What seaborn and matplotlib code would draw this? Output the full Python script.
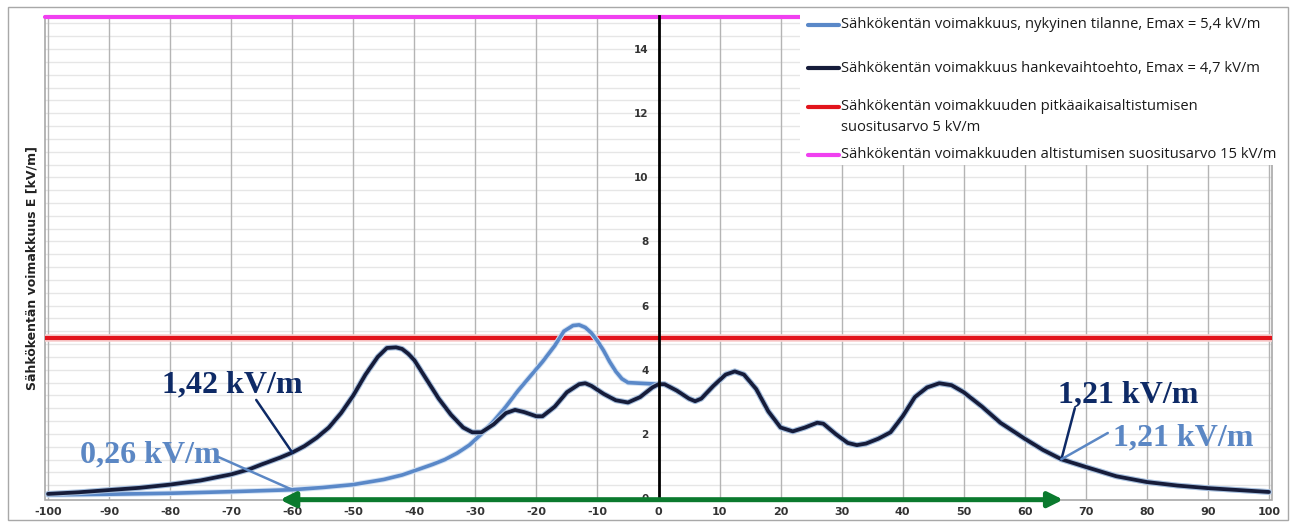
import numpy as np
import matplotlib
matplotlib.use("Agg")
import matplotlib.pyplot as plt
import matplotlib.patheffects as pe
from matplotlib.lines import Line2D
from matplotlib.patches import Rectangle
import seaborn as sns

# Distance from the line centre [m] and field strength [kV/m], proposed alternative
dark_x = [-100, -95, -90, -85, -80, -75, -70, -67, -65, -62, -60, -58, -56, -54, -52,
          -50, -48, -46, -44.5, -43, -42, -41, -40, -38, -36, -34, -32, -30.5, -29,
          -27, -25, -23.5, -22, -20, -19, -17, -15, -13, -12, -11, -9, -7, -5, -3, -1,
          0, 1, 3, 5, 6, 7, 9, 11, 12.5, 14, 16, 18, 20, 22, 24, 26, 27, 29, 31, 32.5,
          34, 36, 38, 40, 42, 44, 46, 48, 50, 53, 56, 60, 63, 66, 70, 75, 80, 85, 90,
          95, 100]
dark_y = [0.13, 0.18, 0.25, 0.32, 0.42, 0.55, 0.74, 0.90, 1.05, 1.26, 1.42, 1.62, 1.88,
          2.20, 2.65, 3.20, 3.85, 4.40, 4.68, 4.70, 4.65, 4.50, 4.30, 3.70, 3.10, 2.60,
          2.20, 2.05, 2.05, 2.30, 2.65, 2.75, 2.68, 2.55, 2.55, 2.85, 3.30, 3.55, 3.58,
          3.50, 3.25, 3.05, 2.98, 3.15, 3.45, 3.55, 3.55, 3.35, 3.10, 3.02, 3.10, 3.50,
          3.85, 3.95, 3.85, 3.40, 2.70, 2.20, 2.08, 2.20, 2.35, 2.32, 2.00, 1.72, 1.65,
          1.70, 1.85, 2.05, 2.55, 3.15, 3.45, 3.58, 3.52, 3.30, 2.85, 2.35, 1.85, 1.50,
          1.21, 0.97, 0.68, 0.50, 0.39, 0.31, 0.25, 0.19]

# Present situation, left side (right side coincides with the proposed alternative)
blue_x_left = [-100, -90, -80, -70, -60, -55, -50, -45, -42, -40, -37, -35, -33, -31,
               -29, -27, -25, -23, -21, -19, -17, -15.5, -14, -13, -12, -11, -10, -9,
               -8, -7, -6, -5, -3, -1]
blue_y_left = [0.10, 0.12, 0.15, 0.20, 0.26, 0.33, 0.42, 0.58, 0.72, 0.85, 1.05, 1.20,
               1.40, 1.65, 2.00, 2.40, 2.85, 3.35, 3.80, 4.25, 4.75, 5.20, 5.38, 5.40,
               5.32, 5.15, 4.90, 4.60, 4.25, 3.95, 3.72, 3.60, 3.58, 3.56]

limit_long = 5.0
limit_short = 15.0

x_ticks = list(range(-100, 101, 10))
y_ticks = list(range(0, 15, 2))

legend_labels = [
    "Sähkökentän voimakkuus, nykyinen tilanne, Emax = 5,4 kV/m",
    "Sähkökentän voimakkuus hankevaihtoehto, Emax = 4,7 kV/m",
    "Sähkökentän voimakkuuden pitkäaikaisaltistumisen\nsuositusarvo 5 kV/m",
    "Sähkökentän voimakkuuden altistumisen suositusarvo 15 kV/m",
]
ylabel = "Sähkökentän voimakkuus E [kV/m]"

# annotated values: (x, value, text)
ann_dark_left = (-60, 1.42, "1,42 kV/m")
ann_blue_left = (-60, 0.26, "0,26 kV/m")
ann_dark_right = (66, 1.21, "1,21 kV/m")
ann_blue_right = (66, 1.21, "1,21 kV/m")

span_left, span_right = -62, 66.3

C_BLUE = "#5a88c8"
C_DARK = "#161c3a"
C_RED = "#e2141c"
C_MAG = "#f040f0"
C_GREEN = "#0b7a2e"
C_NAVY_TXT = "#0e2a66"
C_BLUE_TXT = "#5b87c4"

sns.set_style("white")
plt.rcParams["font.family"] = ["DejaVu Sans"]

W, H = 1296, 523
fig = plt.figure(figsize=(W / 100, H / 100), dpi=100)
ax = fig.add_axes([45 / W, 1 - 500 / H, (1272 - 45) / W, (500 - 16) / H])
ax.set_xlim(-100.5, 100.5)
ax.set_ylim(-0.06, 15.03)

# grid
for yv in np.arange(0.4, 15.0, 0.4):
    ax.axhline(yv, color="#e6e6e6", lw=1.0, zorder=0)
for xv in x_ticks:
    ax.axvline(xv, color="#b4b4b4", lw=1.0, zorder=0.5)

# plot frame
ax.add_patch(Rectangle((0, 0), 1, 1, transform=ax.transAxes, fill=False,
                       edgecolor="#a8a8a8", lw=1.2, zorder=1, clip_on=False))

# reference levels
ax.axhline(limit_long, color=C_RED, lw=3.0, zorder=2,
           path_effects=[pe.Stroke(linewidth=5.5, foreground="#f8d0d0"), pe.Normal()])
ax.axhline(limit_short, color=C_MAG, lw=3.0, zorder=2, clip_on=False)

# field-strength curves
dark_x_arr = np.array(dark_x)
dark_y_arr = np.array(dark_y)
right = dark_x_arr >= 0
blue_x = np.concatenate([blue_x_left, dark_x_arr[right]])
blue_y = np.concatenate([blue_y_left, dark_y_arr[right]])

sns.lineplot(x=blue_x, y=blue_y, ax=ax, color=C_BLUE, lw=2.6, sort=False,
             estimator=None, zorder=3,
             path_effects=[pe.Stroke(linewidth=4, foreground="#d3e2f4"), pe.Normal()])
sns.lineplot(x=dark_x, y=dark_y, ax=ax, color=C_DARK, lw=2.7, sort=False,
             estimator=None, zorder=4,
             path_effects=[pe.Stroke(linewidth=4.2, foreground="#a5bedd"), pe.Normal()])

# y axis through x = 0
for s in ["top", "right", "bottom"]:
    ax.spines[s].set_visible(False)
ax.spines["left"].set_position(("data", 0))
ax.spines["left"].set_color("black")
ax.spines["left"].set_linewidth(2.0)
ax.spines["left"].set_zorder(5)
ax.set_yticks(y_ticks)
ax.set_yticks(np.arange(0, 15.0, 0.4), minor=True)
ax.tick_params(axis="y", which="major", direction="inout", length=6, width=1.5,
               labelsize=7.5, colors="black", labelcolor="#333333", pad=4)
ax.tick_params(axis="y", which="minor", direction="inout", length=3.5, width=1.2,
               colors="black")
for lbl in ax.get_yticklabels():
    lbl.set_fontweight("bold")

ax.set_xticks(x_ticks)
ax.set_xticklabels([str(v) for v in x_ticks], fontweight="bold")
ax.tick_params(axis="x", which="major", direction="out", length=0, labelsize=8,
               labelcolor="#333333", pad=5)

# span arrow along the bottom
ax.annotate("", xy=(span_right, -0.05), xytext=(span_left, -0.05),
            arrowprops=dict(arrowstyle="<|-|>", color=C_GREEN, lw=3.6,
                            mutation_scale=22, shrinkA=0, shrinkB=0),
            annotation_clip=False, zorder=6)

# value callouts
serif = dict(family="Liberation Serif", fontweight="bold", fontsize=23)
ax.text(-81.3, 3.31, ann_dark_left[2], color=C_NAVY_TXT, va="baseline", ha="left",
        zorder=7, **serif)
ax.annotate("", xy=ann_dark_left[:2], xytext=(-65.9, 3.06),
            arrowprops=dict(arrowstyle="-", color=C_NAVY_TXT, lw=1.8,
                            shrinkA=0, shrinkB=0), zorder=7)
ax.text(-94.7, 1.12, ann_blue_left[2], color=C_BLUE_TXT, va="baseline", ha="left",
        zorder=7, **serif)
ax.annotate("", xy=ann_blue_left[:2], xytext=(-72.1, 1.28),
            arrowprops=dict(arrowstyle="-", color=C_BLUE_TXT, lw=1.8,
                            shrinkA=0, shrinkB=0), zorder=7)
ax.text(65.4, 2.99, ann_dark_right[2], color=C_NAVY_TXT, va="baseline", ha="left",
        zorder=7, **serif)
ax.annotate("", xy=ann_dark_right[:2], xytext=(68.2, 2.8),
            arrowprops=dict(arrowstyle="-", color=C_NAVY_TXT, lw=1.8,
                            shrinkA=0, shrinkB=0), zorder=7)
ax.text(74.4, 1.65, ann_blue_right[2], color=C_BLUE_TXT, va="baseline", ha="left",
        zorder=7, **serif)
ax.annotate("", xy=ann_blue_right[:2], xytext=(73.6, 2.03),
            arrowprops=dict(arrowstyle="-", color=C_BLUE_TXT, lw=1.8,
                            shrinkA=0, shrinkB=0), zorder=7)

# y label
fig.text(32 / W, 1 - 268 / H, ylabel, rotation=90, ha="center", va="center",
         fontsize=9, fontweight="bold", color="#222222")

# legend box
def fx(px):
    return px / W

def fy(py):
    return 1 - py / H

fig.patches.append(Rectangle((fx(800), fy(165)), fx(1283) - fx(800), fy(8) - fy(165),
                             transform=fig.transFigure, facecolor="white",
                             edgecolor="none", zorder=8))
legend_colors = [C_BLUE, C_DARK, C_RED, C_MAG]
legend_rows = [25, 68, 107, 155]
for col, row, lab in zip(legend_colors, legend_rows, legend_labels):
    fig.lines.append(Line2D([fx(808), fx(839)], [fy(row), fy(row)], color=col, lw=3,
                            transform=fig.transFigure, zorder=9))
    multi = "\n" in lab
    fig.text(fx(841), fy(row - 8) if multi else fy(row), lab, ha="left",
             va="top" if multi else "center",
             fontsize=10.6, family="Open Sans", color="#1a1a1a", zorder=9,
             linespacing=1.55)

# outer chart border
fig.patches.append(Rectangle((fx(8), fy(520)), fx(1288) - fx(8), fy(7) - fy(520),
                             transform=fig.transFigure, fill=False,
                             edgecolor="#a8a8a8", lw=1.0, zorder=10))

fig.savefig("out.png", dpi=100, facecolor="white")
